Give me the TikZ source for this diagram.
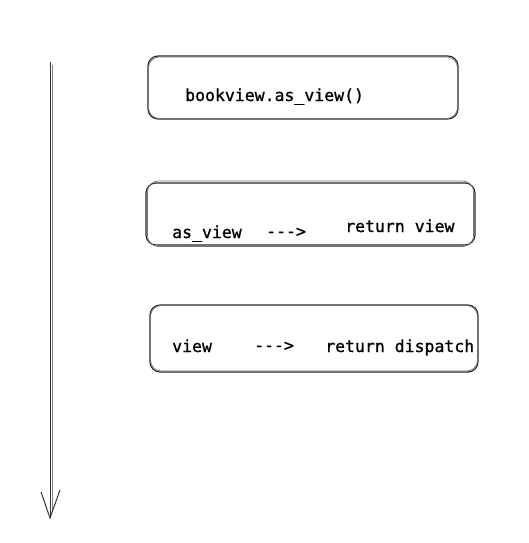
\documentclass[tikz,border=0pt]{standalone}
\usepackage{fontspec}
\newfontfamily\codefont[FakeBold=1]{DejaVu Sans Mono}
\usetikzlibrary{positioning,calc}

\tikzset{
    sketch/.style={draw=black!85, line width=1.1pt, rounded corners=10pt},
    sketchb/.style={draw=black!55, line width=0.7pt, rounded corners=11pt},
    code/.style={font=\codefont\fontsize{16.5}{20}\selectfont, inner sep=0pt, anchor=base west},
}

\begin{document}
\begin{tikzpicture}[x=1pt, y=-1pt]
    \useasboundingbox (0, 0) rectangle (529, 543);

    % time line
    \coordinate (top) at (50, 62);
    \coordinate (bot) at (50, 518);
    \draw[line width=0.9pt, black!80] (top) -- (bot);
    \draw[line width=0.7pt, black!50] ($(top)+(2.5,3)$) -- ($(bot)+(2.5,-6)$);
    \draw[line width=1pt, black!80] ($(bot)+(-9,-26)$) -- (bot) -- ($(bot)+(10,-28)$);

    % boxes
    \node[sketch, minimum width=310, minimum height=63] (call) at (303, 87.5) {};
    \draw[sketchb] ($(call.north west)+(1,1.5)$) rectangle ($(call.south east)+(-1,-1)$);
    \node[sketch, minimum width=329, minimum height=62] (asview) at (310.5, 214) {};
    \draw[sketchb] ($(asview.north west)+(2,-1.5)$) rectangle ($(asview.south east)+(-2,1)$);
    \node[sketch, minimum width=328, minimum height=67] (viewbox) at (314, 338.5) {};
    \draw[sketchb] ($(viewbox.north west)+(1,1)$) rectangle ($(viewbox.south east)+(-1,-1.5)$);

    % texts
    \node[code] (calltxt) at (185, 101) {bookview.as\_view()};
    \node[code] (asname) at (172, 238) {as\_view};
    \node[code] (asarr) at (266, 237) {--{}-{}>};
    \node[code] (asret) at (345, 232) {return view};
    \node[code] (vname) at (172, 352) {view};
    \node[code] (varr) at (254, 351) {--{}-{}>};
    \node[code] (vret) at (325, 352) {return dispatch};
\end{tikzpicture}
\end{document}
